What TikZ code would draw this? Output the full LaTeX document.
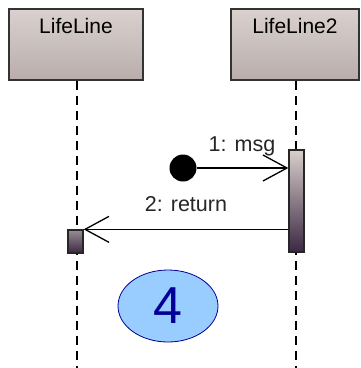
\documentclass[tikz,border=0pt]{standalone}
\usepackage{fontspec}
\setmainfont{Liberation Sans}
\usetikzlibrary{arrows.meta,shapes.geometric}
\definecolor{headtop}{HTML}{DAD1CD}
\definecolor{headbot}{HTML}{B8ADAB}
\definecolor{bartop}{HTML}{D8CFCB}
\definecolor{barbot}{HTML}{3B2842}
\definecolor{stampfill}{HTML}{99CCFF}
\definecolor{stampink}{HTML}{000099}
\tikzset{
  headbox/.style={draw=black!80, line width=1.5pt, top color=headtop, bottom color=headbot,
    minimum width=134pt, minimum height=71pt, inner sep=0pt, text depth=37pt,
    font=\fontsize{21}{23}\selectfont},
  actbar/.style={draw=black!85, line width=1.3pt, top color=bartop, bottom color=barbot,
    minimum width=15pt, inner sep=0pt},
  lifeline/.style={line width=1.3pt, dash pattern=on 9pt off 6pt},
  msgarrow/.style={line width=1.3pt, -{Straight Barb[length=24pt,width=26pt,line width=1.3pt]}},
  msglabel/.style={inner sep=0pt, text=black!85, font=\fontsize{21.5}{23}\selectfont},
  startdot/.style={circle, fill=black, minimum size=27pt, inner sep=0pt},
  stamp/.style={ellipse, draw=stampink, line width=0.8pt, fill=stampfill,
    minimum width=100pt, minimum height=72pt, inner sep=0pt, text=stampink,
    font=\fontsize{52}{54}\selectfont}
}
\begin{document}
\begin{tikzpicture}[x=1pt, y=-1pt]
        \useasboundingbox (0,0) rectangle (360,368);
        % lifelines
        \node[headbox] (head1) at (76,44.5) {LifeLine};
        \node[headbox, minimum width=128pt] (head2) at (295,44.5) {LifeLine2};
        \coordinate (end1) at (77,368);
        \coordinate (end2) at (296,368);
        \draw[lifeline] (head1.south -| end1) -- (end1);
        \draw[lifeline] (head2.south -| end2) -- (end2);
        % activations
        \node[actbar, minimum height=102pt] (act2) at (296.5,201) {};
        \node[actbar, minimum height=23pt, top color=bartop!60!barbot] (act1) at (75.5,241.5) {};
        % messages
        \node[startdot] (start) at (183,168) {};
        \draw[msgarrow] (start) -- (act2.west |- start);
        \node[msglabel] (msg) at (242,146) {1: msg};
        \draw[msgarrow] (act2.west |- act1.north) -- (act1.north east);
        \node[msglabel] (ret) at (186,204) {2: return};
        % step number
        \node[stamp] (step4) at (168,306) {4};
\end{tikzpicture}
\end{document}
